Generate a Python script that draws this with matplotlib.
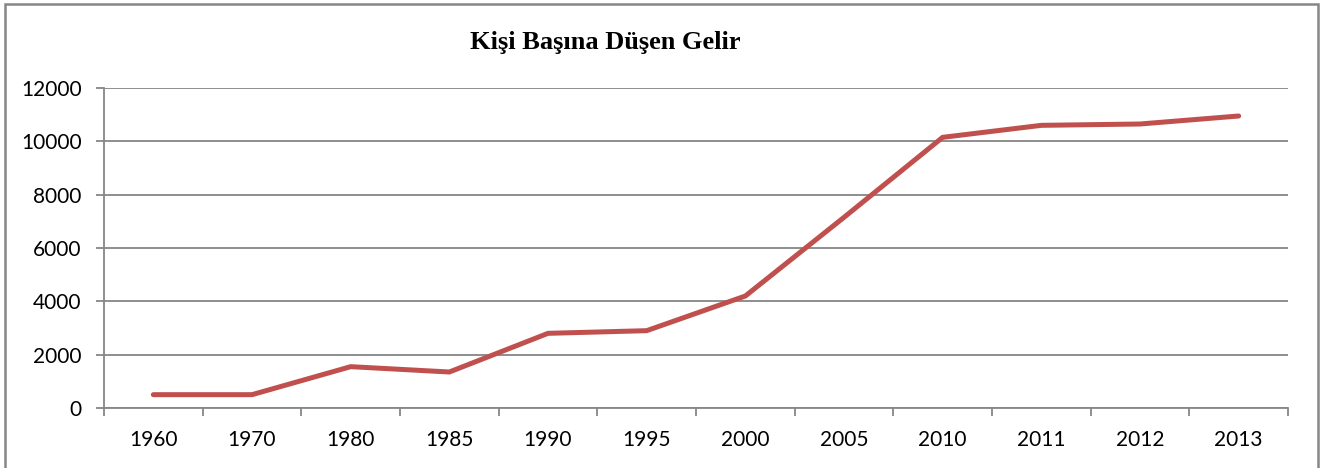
import matplotlib
matplotlib.use("Agg")
import matplotlib.pyplot as plt
from matplotlib.patches import Rectangle
import numpy as np

years = ["1960", "1970", "1980", "1985", "1990", "1995", "2000", "2005", "2010", "2011", "2012", "2013"]
income = [500, 500, 1550, 1350, 2800, 2900, 4200, 7150, 10150, 10600, 10650, 10950]
y_ticks = [0, 2000, 4000, 6000, 8000, 10000, 12000]
title = "Kişi Başına Düşen Gelir"

W, H = 1325, 468
fig = plt.figure(figsize=(W / 100, H / 100), dpi=100)
ax = fig.add_axes([104 / W, (H - 408) / H, (1288 - 104) / W, (408 - 88) / H])

grid_c = "#868686"
x = np.arange(len(years))
ax.plot(x, income, color="#C0504D", lw=3.6, solid_capstyle="round", solid_joinstyle="miter", zorder=3)

ax.set_xlim(-0.5, len(years) - 0.5)
ax.set_ylim(0, 12000)
ax.set_yticks(y_ticks)
ax.set_yticklabels([str(v) for v in y_ticks], fontfamily="Lato", fontsize=15)
ax.yaxis.grid(True, color=grid_c, lw=1.3)
ax.set_axisbelow(True)

ax.set_xticks(x)
ax.set_xticklabels(years, fontfamily="Lato", fontsize=15)
ax.set_xticks(np.arange(-0.5, len(years)), minor=True)
ax.tick_params(axis="x", which="major", length=0, pad=16)
ax.tick_params(axis="x", which="minor", length=6, width=1.3, color=grid_c, direction="out")
ax.tick_params(axis="y", length=6, width=1.3, color=grid_c, direction="out", pad=10)

for s in ["top", "right"]:
    ax.spines[s].set_visible(False)
for s in ["left", "bottom"]:
    ax.spines[s].set_color(grid_c)
    ax.spines[s].set_linewidth(1.3)

fig.text(605 / W, (H - 42) / H, title, ha="center", va="center",
         fontfamily="Liberation Serif", fontweight="bold", fontsize=19)

fig.patches.append(Rectangle((5 / W, -0.2), (1318 - 5) / W, (H - 4) / H + 0.2,
                             transform=fig.transFigure, fill=False,
                             edgecolor=grid_c, lw=1.8, clip_on=False))

fig.savefig("out.png", dpi=100)
